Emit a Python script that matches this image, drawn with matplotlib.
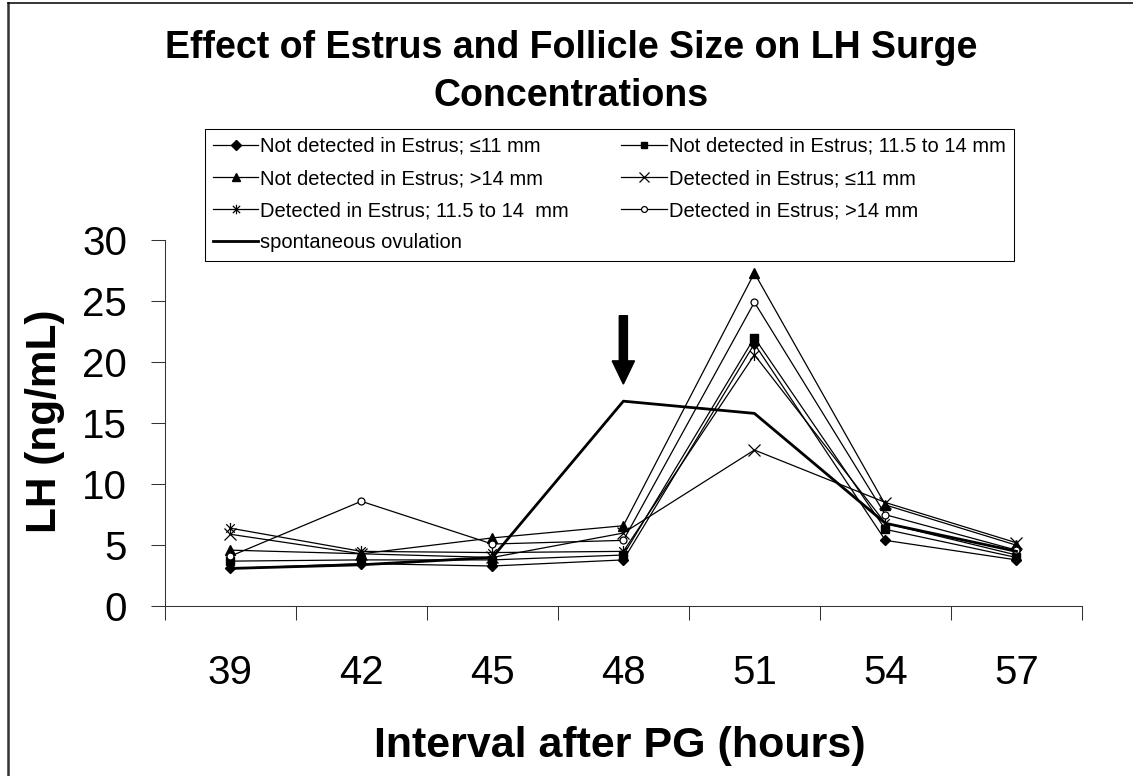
import matplotlib
matplotlib.use('agg')
import matplotlib.pyplot as plt
from matplotlib.path import Path
from matplotlib.lines import Line2D

hours = ['39', '42', '45', '48', '51', '54', '57']

nd_small = [3.1, 3.5, 3.3, 3.8, 21.5, 5.4, 3.8]
nd_mid = [3.7, 3.8, 3.8, 4.2, 22.0, 6.3, 4.0]
nd_large = [4.6, 4.3, 5.6, 6.6, 27.3, 8.3, 5.0]
d_small = [5.9, 4.3, 4.0, 6.0, 12.8, 8.5, 5.2]
d_mid = [6.4, 4.5, 4.4, 4.5, 20.6, 6.8, 4.2]
d_large = [4.1, 8.6, 5.1, 5.4, 24.9, 7.5, 4.6]
spont = [3.1, 3.4, 4.0, 16.8, 15.8, 6.8, 4.5]

labels = ['Not detected in Estrus; \u226411 mm',
          'Not detected in Estrus; 11.5 to 14 mm',
          'Not detected in Estrus; >14 mm',
          'Detected in Estrus; \u226411 mm',
          'Detected in Estrus; 11.5 to 14  mm',
          'Detected in Estrus; >14 mm',
          'spontaneous ovulation']

plt.rcParams['font.family'] = ['Liberation Sans', 'DejaVu Sans']

# asterisk marker (x with a vertical bar)
star = Path([(-1, -1), (1, 1), (-1, 1), (1, -1), (0, -1.3), (0, 1.3)],
            [Path.MOVETO, Path.LINETO, Path.MOVETO, Path.LINETO, Path.MOVETO, Path.LINETO])

fig = plt.figure(figsize=(11.33, 7.76), dpi=100)
ax = fig.add_axes([164.7/1133, 1-606.3/776, (1082-164.7)/1133, (606.3-240)/776])

x = range(len(hours))
lw = 0.9
h = []
h += ax.plot(x, nd_small, 'k-', lw=lw, marker='D', ms=5.5)
h += ax.plot(x, nd_mid, 'k-', lw=lw, marker='s', ms=5.5)
h += ax.plot(x, nd_large, 'k-', lw=lw, marker='^', ms=6.5)
h += ax.plot(x, d_small, 'k-', lw=lw, marker='x', ms=8, mew=0.9)
h += ax.plot(x, d_mid, 'k-', lw=lw, marker=star, ms=8, mew=0.9, mfc='none')
h += ax.plot(x, d_large, 'k-', lw=lw, marker='o', ms=5, mfc='white', mew=0.9)
h += ax.plot(x, spont, 'k-', lw=2.0)

# arrow at 48 h
ax.arrow(3, 23.8, 0, -5.6, width=0.062, head_width=0.17, head_length=1.9,
         length_includes_head=True, color='black', zorder=5)

ax.set_xlim(-0.5, 6.5)
ax.set_ylim(0, 30)
ax.set_yticks(range(0, 31, 5))
ax.set_xticks([i - 0.5 for i in range(8)])
ax.set_xticklabels([])
ax.set_xticks(list(x), minor=True)
ax.set_xticklabels(hours, minor=True)
ax.tick_params(axis='x', which='major', direction='out', length=10, width=0.75, color='#333333')
ax.tick_params(axis='x', which='minor', length=0, pad=34, labelsize=29)
ax.tick_params(axis='y', direction='out', length=10, width=0.75, color='#333333', pad=17, labelsize=29)
for s in ['top', 'right']:
    ax.spines[s].set_visible(False)
for s in ['left', 'bottom']:
    ax.spines[s].set_color('#333333')
    ax.spines[s].set_linewidth(0.75)

ax.set_ylabel('LH (ng/mL)', fontsize=30.5, fontweight='bold', va='center', ha='center')
ax.yaxis.set_label_coords(-0.1305, 0.506)
ax.set_xlabel('Interval after PG (hours)', fontsize=31, fontweight='bold', va='center')
ax.xaxis.set_label_coords(0.496, -0.381)

fig.text(0.504, 1-48/776, 'Effect of Estrus and Follicle Size on LH Surge',
         fontsize=27, fontweight='bold', ha='center', va='center')
fig.text(0.504, 1-96/776, 'Concentrations',
         fontsize=27, fontweight='bold', ha='center', va='center')

order = [0, 2, 4, 6, 1, 3, 5]
leg = ax.legend([h[i] for i in order], [labels[i] for i in order], ncol=2,
                loc='upper left', bbox_to_anchor=(204.5/1133, 1-128.5/776),
                bbox_transform=fig.transFigure, borderaxespad=0,
                fontsize=14.5, handlelength=2.25, handletextpad=0.1,
                columnspacing=2.6, labelspacing=0.65, borderpad=0.42,
                markerscale=0.85, fancybox=False, framealpha=1, edgecolor='black')
leg.get_frame().set_linewidth(0.75)

fig.add_artist(Line2D([7.5/1133, 7.5/1133], [0, 1-3/776], color='#333333', lw=1.8))
fig.add_artist(Line2D([7.5/1133, 1], [1-3/776, 1-3/776], color='black', lw=1.1))

plt.savefig('out.png', dpi=100)
